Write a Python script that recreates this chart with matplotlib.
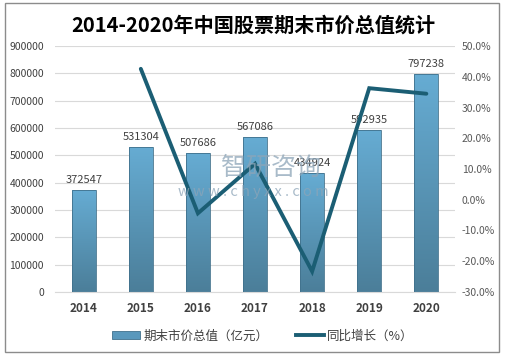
import matplotlib
matplotlib.use('Agg')
import matplotlib.pyplot as plt
import numpy as np
from matplotlib.patches import Patch, Rectangle
from matplotlib.lines import Line2D
from matplotlib.colors import LinearSegmentedColormap
from matplotlib.ticker import FuncFormatter

plt.rcParams['font.family'] = ['Noto Sans CJK SC', 'DejaVu Sans']

# Data
years = ['2014', '2015', '2016', '2017', '2018', '2019', '2020']
market_value = [372547, 531304, 507686, 567086, 434924, 592935, 797238]
growth = [None, 42.6, -4.4, 11.7, -23.3, 36.3, 34.5]

TEXT = '#404040'
LINE = '#1B5E74'

fig = plt.figure(figsize=(5.06, 3.6), dpi=100)
ax = fig.add_axes([0.109, 0.189, 0.79, 0.683])
ax2 = ax.twinx()

x = np.arange(len(years))
bars = ax.bar(x, market_value, width=0.42, color='none', edgecolor='#41718C',
              linewidth=0.6, zorder=3)

# vertical gradient fill for bars
cmap = LinearSegmentedColormap.from_list('bar', ['#4B7E99', '#66ACD3'])
grad = np.linspace(0, 1, 256).reshape(-1, 1)
for b in bars:
    x0, y0 = b.get_x(), b.get_y()
    im = ax.imshow(grad, cmap=cmap, origin='lower', aspect='auto', zorder=2,
                   extent=[x0, x0 + b.get_width(), y0, y0 + b.get_height()])
    im.set_clip_path(b)
ax.set_xlim(-0.5, len(years) - 0.5)
ax.set_ylim(0, 900000)

for xi, v in zip(x, market_value):
    ax.text(xi, v + 18000, str(v), ha='center', va='bottom', fontsize=8,
            color=TEXT, zorder=4)

ax.set_yticks(np.arange(0, 900001, 100000))
ax.grid(axis='y', color='#D9D9D9', linewidth=0.8, zorder=0)
ax.set_axisbelow(True)
ax.set_xticks(x)
ax.set_xticklabels(years, fontsize=8.5, fontweight='bold', color=TEXT)
ax.tick_params(axis='y', labelsize=7.5, colors=TEXT, length=0, pad=8)
ax.tick_params(axis='x', length=0, pad=7)
for s in ['top', 'right', 'left']:
    ax.spines[s].set_visible(False)
ax.spines['bottom'].set_color('#D9D9D9')

# growth line on secondary axis
gx = [xi for xi, g in zip(x, growth) if g is not None]
gy = [g for g in growth if g is not None]
ax2.plot(gx, gy, color=LINE, linewidth=2.8, solid_capstyle='round',
         solid_joinstyle='miter', zorder=5)
ax2.set_ylim(-30, 50)
ax2.set_yticks(np.arange(-30, 51, 10))
ax2.yaxis.set_major_formatter(FuncFormatter(lambda v, p: f'{v:.1f}%'))
ax2.tick_params(axis='y', labelsize=7.5, colors='#595959', length=0, pad=5)
for s in ax2.spines.values():
    s.set_visible(False)

# watermark
fig.text(0.535, 0.533, '智研咨询', fontsize=18, color='#8DA5B8', alpha=0.75,
         ha='center', va='center', zorder=10)
fig.text(0.5, 0.467, 'w w w . c h y x x . c o m', fontsize=10.5, color='#8DA5B8',
         alpha=0.75, ha='center', va='center', zorder=10)

fig.text(0.5, 0.93, '2014-2020年中国股票期末市价总值统计', fontsize=14.5,
         fontweight='bold', color='black', ha='center', va='center')

handles = [Patch(facecolor='#5A98BC', edgecolor='#41718C', linewidth=0.6),
           Line2D([0], [0], color=LINE, linewidth=2.8)]
fig.legend(handles, ['期末市价总值（亿元）', '同比增长（%）'], loc='center',
           bbox_to_anchor=(0.52, 0.067), ncol=2, frameon=False, fontsize=9,
           labelcolor=TEXT, handlelength=2.2, handleheight=0.6,
           columnspacing=2.2, handletextpad=0.3)

fig.add_artist(Rectangle((0.01, 0.022), 0.976, 0.97, transform=fig.transFigure,
                         fill=False, edgecolor='#8C8C8C', linewidth=1))

fig.savefig('out.png', dpi=100)
